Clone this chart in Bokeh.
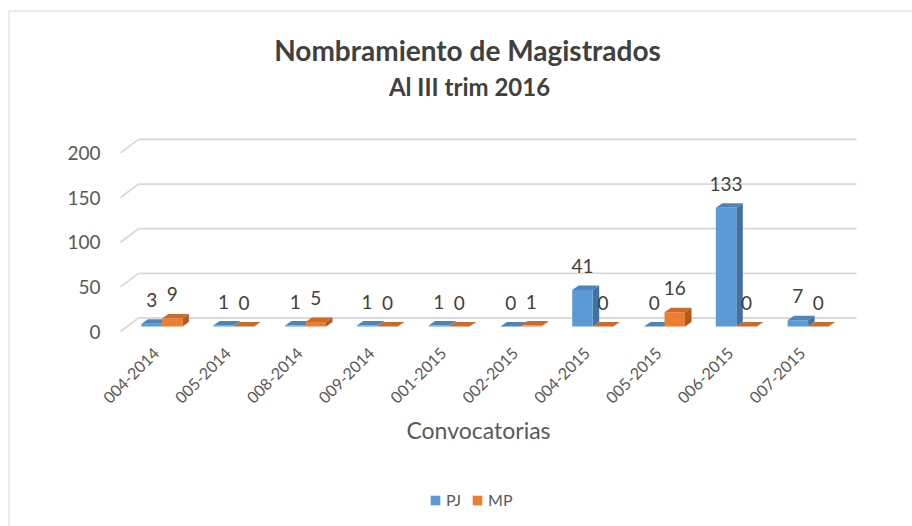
import math
from bokeh.plotting import figure
from bokeh.models import Range1d, FixedTicker, Label, Legend, LegendItem
from bokeh.core.properties import value
from bokeh.embed import file_html
from bokeh.resources import INLINE

# ---- data ----
categories = ["004-2014", "005-2014", "008-2014", "009-2014", "001-2015",
              "002-2015", "004-2015", "005-2015", "006-2015", "007-2015"]
pj_values = [3, 1, 1, 1, 1, 0, 41, 0, 133, 7]
mp_values = [9, 0, 5, 0, 0, 1, 0, 16, 0, 0]
series_names = ["PJ", "MP"]
y_ticks = [0, 50, 100, 150, 200]

# ---- geometry (pixels of the 912x526 picture; the frame fills the canvas) ----
W, H = 912, 526
PLANE_LEFT_IMG = 120           # front plane left edge  -> category -0.5
PLANE_BOTTOM_IMG = 331         # front plane value 0
PX_X = 71.8                    # px per category
PX_Y = 0.893                   # px per unit
n = len(categories)
x_start = -0.5 - PLANE_LEFT_IMG / PX_X
x_end = x_start + W / PX_X
y_start = -(H - PLANE_BOTTOM_IMG) / PX_Y
y_end = PLANE_BOTTOM_IMG / PX_Y

FONT = "Lato"
TXT = "#404040"
AX = "#595959"
GRID = "#d9d9d9"
front_cols = ["#5B9BD5", "#ED7D31"]
top_cols = ["#4E84B8", "#CC6A28"]
side_cols = ["#41719C", "#AE5A21"]


def dxp(px):
    return px / PX_X


def dyp(px):
    return px / PX_Y


def data_x(ix):
    return -0.5 + (ix - PLANE_LEFT_IMG) / PX_X


def data_y(iy):
    return (PLANE_BOTTOM_IMG - iy) / PX_Y


p = figure(width=W, height=H, output_backend="svg", toolbar_location=None,
           x_range=Range1d(x_start, x_end), y_range=Range1d(y_start, y_end),
           min_border_left=0, min_border_top=0, min_border_right=0,
           min_border_bottom=0, title_location=None)
p.outline_line_color = None
p.xgrid.visible = False
p.ygrid.visible = False
p.background_fill_color = "white"
p.border_fill_color = "white"

# ---- chart area border (left and top edges visible) ----
p.segment(x0=[data_x(8.5), data_x(8.5)], y0=[data_y(10.5), data_y(10.5)],
          x1=[data_x(8.5), x_end], y1=[y_start, data_y(10.5)],
          line_color=GRID, line_width=1)

# ---- 3D gridlines: back wall + left wall diagonals ----
BACK_DX, BACK_DY = 18, 13.5
front_left = -0.5
front_right = -0.5 + n
bx, by = dxp(BACK_DX), dyp(BACK_DY)
p.segment(x0=[front_left + bx] * len(y_ticks), y0=[t + by for t in y_ticks],
          x1=[front_right + bx] * len(y_ticks), y1=[t + by for t in y_ticks],
          line_color=GRID, line_width=1.8)
p.segment(x0=[front_left] * len(y_ticks), y0=y_ticks,
          x1=[front_left + bx] * len(y_ticks), y1=[t + by for t in y_ticks],
          line_color=GRID, line_width=1.8)

# ---- 3D bars ----
BAR_W = 20.5
PLANE_DX, PLANE_DY = 5.5, 5.0
DEPTH_DX, DEPTH_DY = 6.5, 4.5
hw = dxp(BAR_W)
pdx, pdy = dxp(PLANE_DX), dyp(PLANE_DY)
ddx, ddy = dxp(DEPTH_DX), dyp(DEPTH_DY)

legend_items = []
for s, vals in enumerate([pj_values, mp_values]):
    lefts = [i + (s - 1) * hw + pdx for i in range(n)]
    rights = [l + hw for l in lefts]
    bottoms = [pdy] * n
    tops = [v + pdy for v in vals]
    p.patches(xs=[[r, r + ddx, r + ddx, r] for r in rights],
              ys=[[b, b + ddy, t + ddy, t] for b, t in zip(bottoms, tops)],
              fill_color=side_cols[s], line_color=None)
    p.patches(xs=[[l, r, r + ddx, l + ddx] for l, r in zip(lefts, rights)],
              ys=[[t, t, t + ddy, t + ddy] for t in tops],
              fill_color=top_cols[s], line_color=None)
    fr = p.quad(left=lefts, right=rights, bottom=bottoms, top=tops,
                fill_color=front_cols[s], line_color=None)
    legend_items.append(LegendItem(label=series_names[s], renderers=[fr]))
    p.text(x=[(l + r) / 2 for l, r in zip(lefts, rights)], y=tops,
           text=[str(v) for v in vals], text_align="center",
           text_baseline="middle", y_offset=-24,
           text_font=value(FONT), text_font_size="19px", text_color=TXT)

# ---- axes (fixed inside the frame, on the front plane) ----
p.xaxis.fixed_location = 0
p.xaxis.ticker = FixedTicker(ticks=list(range(n)))
p.xaxis.major_label_overrides = {i: c for i, c in enumerate(categories)}
p.xaxis.major_label_orientation = math.pi / 4
p.xaxis.axis_line_color = None
p.xaxis.major_tick_line_color = None
p.xaxis.minor_tick_line_color = None
p.xaxis.major_tick_out = 0
p.xaxis.major_tick_in = 0
p.xaxis.major_label_standoff = 19
p.xaxis.major_label_text_font = FONT
p.xaxis.major_label_text_font_size = "16px"
p.xaxis.major_label_text_color = AX

p.yaxis.fixed_location = -0.5
p.yaxis.ticker = FixedTicker(ticks=y_ticks)
p.yaxis.axis_line_color = None
p.yaxis.major_tick_line_color = None
p.yaxis.minor_tick_line_color = None
p.yaxis.major_tick_out = 0
p.yaxis.major_tick_in = 0
p.yaxis.major_label_standoff = 20
p.yaxis.major_label_text_font = FONT
p.yaxis.major_label_text_font_size = "19px"
p.yaxis.major_label_text_color = AX

# ---- titles ----
p.add_layout(Label(x=data_x(467), y=data_y(49), text="Nombramiento de Magistrados",
                   text_align="center", text_baseline="alphabetic",
                   text_font=FONT, text_font_size="28px", text_font_style="bold",
                   text_color=TXT))
p.add_layout(Label(x=data_x(469), y=data_y(86), text="Al III trim 2016",
                   text_align="center", text_baseline="alphabetic",
                   text_font=FONT, text_font_size="24px", text_font_style="bold",
                   text_color=TXT))
p.add_layout(Label(x=data_x(478), y=data_y(429), text="Convocatorias",
                   text_align="center", text_baseline="alphabetic",
                   text_font=FONT, text_font_size="23px", text_color=AX))

# ---- legend ----
legend = Legend(items=legend_items, orientation="horizontal",
                location=(429, H - 509),
                glyph_width=12, glyph_height=12, label_standoff=5, spacing=10,
                padding=0, margin=0, border_line_color=None,
                background_fill_alpha=0, label_text_font=FONT,
                label_text_font_size="16px", label_text_color=AX,
                label_height=10, label_width=1)
p.add_layout(legend, "center")

open("out.html", "w").write(file_html(p, INLINE))
